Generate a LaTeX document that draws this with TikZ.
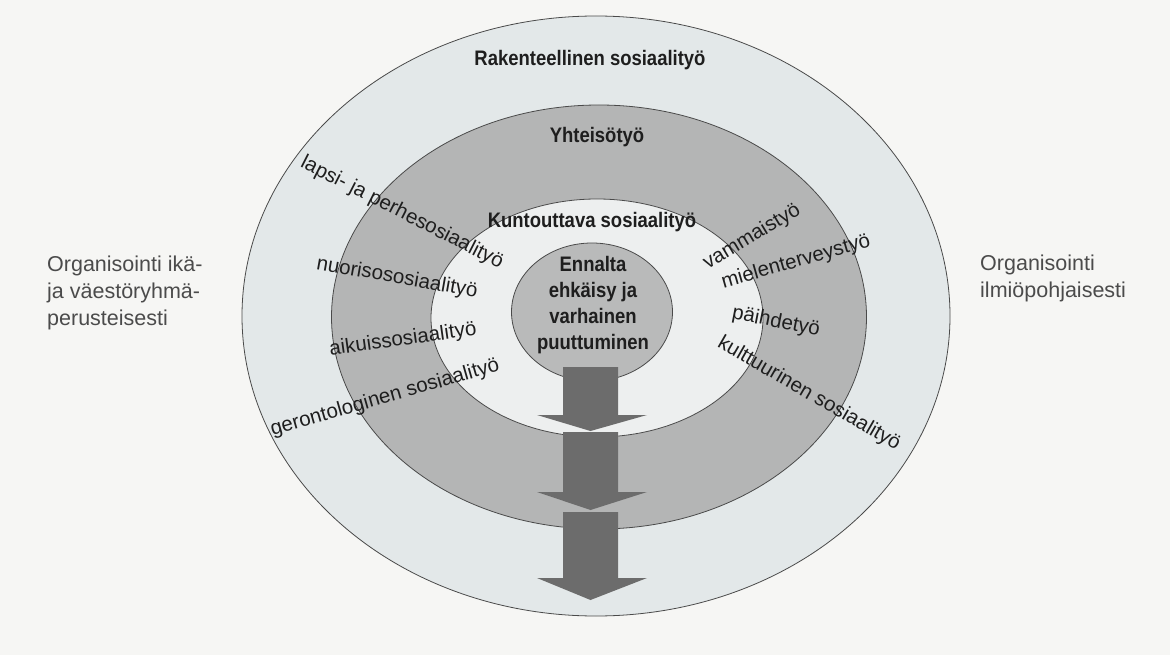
\documentclass[tikz,border=0pt]{standalone}
\usepackage{fontspec}
\setmainfont{Liberation Sans}
\newfontfamily\condfont{Liberation Sans}[FakeStretch=0.88]
\usetikzlibrary{shapes.geometric}

\definecolor{paper}{HTML}{F6F6F4}
\definecolor{outerc}{HTML}{E3E8E9}
\definecolor{ringc}{HTML}{B4B5B5}
\definecolor{innerc}{HTML}{EDEFEF}
\definecolor{corec}{HTML}{B9BABA}
\definecolor{arrowc}{HTML}{6C6C6C}
\definecolor{edge}{HTML}{4A4A4A}
\definecolor{ink}{HTML}{1E1E1E}

\begin{document}
\begin{tikzpicture}
        [x=1pt,y=-1pt,every node/.style={inner sep=0},
        zone/.style={draw=edge,line width=0.8pt,shape=ellipse},
        title/.style={font=\condfont\bfseries\fontsize{21}{26}\selectfont,text=ink,align=center},
        field/.style={font=\fontsize{20.5}{24}\selectfont,text=ink},
        side/.style={font=\fontsize{21.5}{27}\selectfont,text=ink!80,align=left}]

        \fill[paper] (0,0) rectangle (1170,655);
        \useasboundingbox (0,0) rectangle (1170,655);

        % rings
        \node[zone,fill=outerc,minimum width=708pt,minimum height=600pt] (outer) at (596,316) {};
        \node[zone,fill=ringc,minimum width=535pt,minimum height=424pt] (ring) at (599,317) {};
        \node[zone,fill=innerc,minimum width=332pt,minimum height=238pt] (inner) at (597,318) {};
        \node[zone,fill=corec,minimum width=161pt,minimum height=138pt] (core) at (592,312) {};

        % arrows
        \fill[arrowc] (563,512) -- (618,512) -- (618,578) -- (647,578) -- (590.5,600) -- (537,578) -- (563,578) -- cycle;
        \fill[arrowc] (563,432) -- (618,432) -- (618,492) -- (647,492) -- (590.5,510) -- (537,492) -- (563,492) -- cycle;
        \fill[arrowc] (563,367) -- (618,367) -- (618,415) -- (647,415) -- (590.5,431) -- (537,415) -- (563,415) -- cycle;

        \node[title] (rak) at (590,60) {Rakenteellinen sosiaalityö};
        \node[title] (yht) at (597,137) {Yhteisötyö};
        \node[title] (kun) at (592,222) {Kuntouttava sosiaalityö};
        \node[title] (enn) at (593,305) {Ennalta\\ehkäisy ja\\varhainen\\puuttuminen};

        \node[field,rotate=-27] (lapsi) at (402,213) {lapsi- ja perhesosiaalityö};
        \node[field,rotate=-10] (nuoriso) at (397,278) {nuorisososiaalityö};
        \node[field,rotate=8] (aikuis) at (403,340) {aikuissosiaalityö};
        \node[field,rotate=16] (geronto) at (385,398) {gerontologinen sosiaalityö};
        \node[field,rotate=31] (vamma) at (752,237) {vammaistyö};
        \node[field,rotate=16] (mielen) at (796,262) {mielenterveystyö};
        \node[field,rotate=-11] (paihde) at (776,322) {päihdetyö};
        \node[field,rotate=-30] (kult) at (809,394) {kulttuurinen sosiaalityö};

        \node[side,anchor=west] (ika) at (47,293) {Organisointi ikä-\\ja väestöryhmä-\\perusteisesti};
        \node[side,anchor=west] (ilmio) at (980,278) {Organisointi\\ilmiöpohjaisesti};

      \end{tikzpicture}
\end{document}
